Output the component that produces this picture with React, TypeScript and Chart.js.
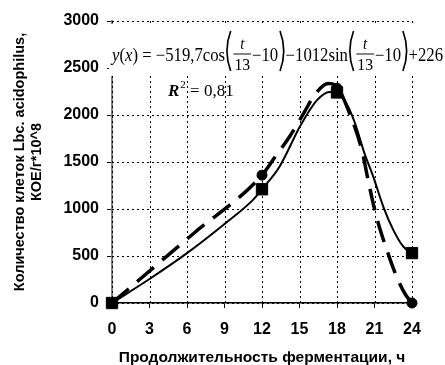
import React, { useEffect, useRef } from 'react';
import { Chart, registerables } from 'chart.js';

Chart.register(...registerables);

// ---- data ----
const pointHours = [0, 12, 18, 24];
const squareValues = [0, 1210, 2240, 531];
const circleValues = [0, 1360, 2285, 0];

const solidHours = [0, 3, 6, 9, 11.3, 12, 13.4, 15.1, 16.4, 17.4, 18, 18.75, 19.4, 20.2, 20.9, 21.7, 22.5, 23.3, 24];
const solidValues = [0, 255, 530, 840, 1100, 1210, 1450, 1893, 2158, 2246, 2240, 2123, 1928, 1592, 1344, 1026, 778, 601, 531];

const dashHours = [0, 6.5, 12, 13, 14.2, 15.4, 16.2, 17.3, 18, 19, 20, 20.5, 21, 21.5, 22, 22.5, 23, 23.5, 24];
const dashValues = [0, 737, 1360, 1545, 1768, 2034, 2211, 2335, 2300, 2020, 1620, 1300, 1000, 760, 560, 370, 210, 85, 0];

const xMin = 0, xMax = 24, xStep = 3;
const yMin = 0, yMax = 3000, yStep = 500;

const xTitle = 'Продолжительность ферментации, ч';
const yTitle = ['Количество клеток Lbc. acidophilus,', 'КОЕ/г*10^8'];
const coefA = '−519,7';
const coefB = '−1012';
const coefC = '+226';
const rSquared = '0,81';

const toPts = (xs: number[], ys: number[]) => xs.map((x, i) => ({ x, y: ys[i] }));

// dotted grid drawn from the chart's own scales
const dottedGridPlugin = {
  id: 'dottedGrid',
  afterDatasetsDraw(chart: any) {
    const { ctx, chartArea: a, scales } = chart;
    const xs = scales.x, ys = scales.y;
    ctx.save();
    ctx.strokeStyle = '#000';
    ctx.globalAlpha = 1;
    ctx.globalCompositeOperation = 'source-over';
    ctx.lineWidth = 1;
    ctx.setLineDash([2, 3]);
    const xv: number[] = xs.ticks.map((t: any) => t.value);
    const yv: number[] = ys.ticks.map((t: any) => t.value);
    for (const v of xv) {
      const px = Math.round(xs.getPixelForValue(v)) + 0.5;
      ctx.beginPath();
      ctx.moveTo(px, a.top);
      ctx.lineTo(px, a.bottom);
      ctx.stroke();
    }
    for (const v of yv) {
      const py = Math.round(ys.getPixelForValue(v)) + 0.5;
      ctx.beginPath();
      ctx.moveTo(a.left, py);
      ctx.lineTo(a.right, py);
      ctx.stroke();
    }
    ctx.restore();
  },
};

const equationPlugin = {
  id: 'equation',
  afterDraw(chart: any) {
    const ctx: CanvasRenderingContext2D = chart.ctx;
    ctx.save();
    ctx.fillStyle = '#fff';
    ctx.fillRect(109, 24, 336, 52);
    ctx.fillStyle = '#000';
    ctx.strokeStyle = '#000';
    const fs = 18;
    const F = (s: number, it = false) => `${it ? 'italic ' : ''}${s}px "Liberation Serif"`;
    type Item = { kind: 'text'; text: string; font: string } | { kind: 'paren'; open: boolean } | { kind: 'frac'; num: string; den: string };
    const items: Item[] = [
      { kind: 'text', text: 'y', font: F(fs, true) },
      { kind: 'text', text: '(', font: F(fs) },
      { kind: 'text', text: 'x', font: F(fs, true) },
      { kind: 'text', text: ') = ', font: F(fs) },
      { kind: 'text', text: coefA + 'cos', font: F(fs) },
      { kind: 'paren', open: true },
      { kind: 'frac', num: 't', den: '13' },
      { kind: 'text', text: '−10', font: F(fs) },
      { kind: 'paren', open: false },
      { kind: 'text', text: coefB + 'sin', font: F(fs) },
      { kind: 'paren', open: true },
      { kind: 'frac', num: 't', den: '13' },
      { kind: 'text', text: '−10', font: F(fs) },
      { kind: 'paren', open: false },
      { kind: 'text', text: coefC, font: F(fs) },
    ];
    const widthOf = (it: Item) => {
      if (it.kind === 'text') { ctx.font = it.font; return ctx.measureText(it.text).width; }
      if (it.kind === 'paren') return 8;
      ctx.font = F(fs - 1);
      return ctx.measureText(it.den).width + 4;
    };
    const total = items.reduce((s, it) => s + widthOf(it), 0);
    const x0 = 112, x1 = 443;
    const sx = (x1 - x0) / total;
    ctx.translate(x0, 0);
    ctx.scale(sx, 1);
    let x = 0;
    const base = 61;
    ctx.textBaseline = 'alphabetic';
    for (const it of items) {
      const w = widthOf(it);
      if (it.kind === 'text') {
        ctx.font = it.font;
        ctx.textAlign = 'left';
        ctx.fillText(it.text, x, base);
      } else if (it.kind === 'paren') {
        ctx.lineWidth = 1.8;
        ctx.beginPath();
        if (it.open) {
          ctx.moveTo(x + 6, 31);
          ctx.quadraticCurveTo(x - 2, 51, x + 6, 71);
        } else {
          ctx.moveTo(x + 2, 31);
          ctx.quadraticCurveTo(x + 10, 51, x + 2, 71);
        }
        ctx.stroke();
      } else {
        ctx.textAlign = 'center';
        ctx.font = F(fs - 2, true);
        ctx.fillText(it.num, x + w / 2, 49);
        ctx.lineWidth = 1;
        ctx.beginPath();
        ctx.moveTo(x + 1, 54);
        ctx.lineTo(x + w - 1, 54);
        ctx.stroke();
        ctx.font = F(fs - 1);
        ctx.fillText(it.den, x + w / 2, 70);
      }
      x += w;
    }
    ctx.restore();

    ctx.save();
    ctx.fillStyle = '#000';
    ctx.textBaseline = 'alphabetic';
    ctx.textAlign = 'left';
    let rx = 168;
    ctx.font = 'italic bold 17px "Liberation Serif"';
    ctx.fillText('R', rx, 96);
    rx += ctx.measureText('R').width + 1;
    ctx.font = '11px "Liberation Serif"';
    ctx.fillText('2', rx, 88);
    rx += ctx.measureText('2').width;
    ctx.font = '17px "Liberation Serif"';
    ctx.fillText(' = ' + rSquared, rx, 96);
    ctx.restore();
  },
};

export default function App() {
  const ref = useRef<HTMLCanvasElement | null>(null);
  useEffect(() => {
    if (!ref.current) return;
    const tickFont = { family: 'Liberation Sans', size: 16, weight: 'bold' as const };
    const chart = new Chart(ref.current, {
      type: 'scatter',
      data: {
        datasets: [
          {
            data: toPts(pointHours, squareValues),
            pointStyle: 'rect',
            pointRadius: 8,
            backgroundColor: '#000',
            borderColor: '#000',
            showLine: false,
            clip: false,
          },
          {
            data: toPts(pointHours, circleValues),
            pointStyle: 'circle',
            pointRadius: 5,
            backgroundColor: '#000',
            borderColor: '#000',
            showLine: false,
            clip: false,
          },
          {
            data: toPts(solidHours, solidValues),
            showLine: true,
            fill: false,
            borderColor: '#000',
            backgroundColor: 'transparent',
            borderWidth: 2,
            pointRadius: 0,
            cubicInterpolationMode: 'monotone',
          },
          {
            data: toPts(dashHours, dashValues),
            showLine: true,
            fill: false,
            borderColor: '#000',
            backgroundColor: 'transparent',
            borderWidth: 3.5,
            borderDash: [22, 11],
            pointRadius: 0,
            cubicInterpolationMode: 'monotone',
          },
        ],
      } as any,
      options: {
        animation: false,
        responsive: false,
        layout: { padding: { left: 0, right: 33, top: 21, bottom: 0 } },
        plugins: { legend: { display: false }, tooltip: { enabled: false } },
        scales: {
          x: {
            type: 'linear',
            min: xMin,
            max: xMax,
            ticks: { stepSize: xStep, color: '#000', font: tickFont, padding: 12, maxRotation: 0, callback: (v: any) => String(v) },
            grid: { display: true, drawOnChartArea: false, color: '#000', lineWidth: 1, tickLength: 5, tickColor: '#000' },
            border: { display: true, color: '#000', width: 1.5 },
            title: { display: true, text: xTitle, color: '#000', font: { family: 'Liberation Sans', size: 15.5, weight: 'bold', lineHeight: 1 }, padding: { top: 0, bottom: 0 } },
            afterFit: (s: any) => { s.height = 62; },
          },
          y: {
            type: 'linear',
            min: yMin,
            max: yMax,
            ticks: { stepSize: yStep, color: '#000', font: tickFont, padding: 8, callback: (v: any) => String(v) },
            grid: { display: true, drawOnChartArea: false, color: '#000', lineWidth: 1, tickLength: 5, tickColor: '#000' },
            border: { display: true, color: '#808080', width: 2 },
            title: { display: true, text: yTitle, color: '#000', font: { family: 'Liberation Sans', size: 14.5, weight: 'bold', lineHeight: 1.2 }, padding: { top: 11, bottom: 0 } },
            afterFit: (s: any) => { s.width = 112; },
          },
        },
      } as any,
      plugins: [dottedGridPlugin, equationPlugin],
    });
    return () => chart.destroy();
  }, []);
  return (
    <div style={{ position: 'fixed', left: 0, top: 0, width: 445, height: 365, background: '#fff' }}>
      <canvas ref={ref} width={445} height={365} />
    </div>
  );
}
